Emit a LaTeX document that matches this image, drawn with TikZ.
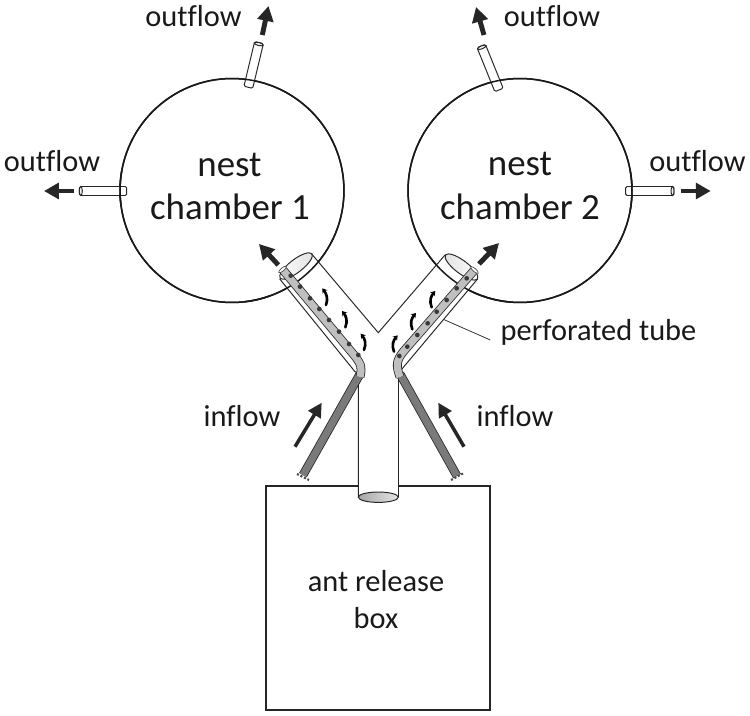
\documentclass[tikz,border=0pt]{standalone}
\usepackage{fontspec}
\setmainfont[Ligatures=NoCommon]{Carlito}
\usetikzlibrary{arrows.meta}
\tikzset{
  px/.style={x=0.02cm,y=-0.02cm},
  lbl/.style={anchor=base,inner sep=0pt,font=\fontsize{17.3}{20}\selectfont,text=black!90},
  biglbl/.style={anchor=base,inner sep=0pt,font=\fontsize{21}{25}\selectfont,text=black!90},
  wall/.style={draw=black!85,line width=0.55pt},
  chamberwall/.style={draw=black!90,line width=0.85pt},
  flow/.style={draw=black!85,line width=2.8pt,-{Triangle[length=8.5pt,width=9pt]}},
  thinflow/.style={draw=black!85,line width=2pt,-{Triangle[length=8pt,width=8pt]}},
  swirl/.style={draw=black,line width=1.5pt,line cap=round,-{Stealth[length=2.6pt,width=3.4pt]}},
}
\newcommand{\stub}[4]{% x y angle length
  \begin{scope}[shift={(#1,#2)},rotate=#3]
    \draw[wall,fill=white,rounded corners=0.8pt] (0,-4.5) rectangle (#4,4.5);
    \draw[wall,fill=black!5] (#4-1.5,0) ellipse (1.5 and 4.5);
  \end{scope}}
\begin{document}
\begin{tikzpicture}[px]
\useasboundingbox[fill=white] (0,0) rectangle (750,716);
% box
\node[draw=black!85,line width=0.6pt,minimum width=4.48cm,minimum height=4.48cm,inner sep=0pt] (box) at (378,598) {};
% chambers
\node[circle,chamberwall,minimum size=4.48cm,inner sep=0pt] (c1) at (232,190.5) {};
\node[circle,chamberwall,minimum size=4.48cm,inner sep=0pt] (c2) at (520,190.5) {};
% stubs
\stub{126.7}{191}{180}{47.4}
\stub{625.7}{191}{0}{48.3}
\stub{248.3}{87.3}{76.5}{46}
\stub{499}{90}{112}{47.5}
\draw[chamberwall] (c1.center) ++(172:112) arc (172:190:112);
\draw[chamberwall] (c2.center) ++(10:112) arc (10:-10:112);
\draw[chamberwall] (c1.center) ++(70:112) arc (70:84:112);
\draw[chamberwall] (c2.center) ++(95:112) arc (95:115:112);
% Y-tube
\draw[wall,fill=white] (358.3,497) -- (358.3,373) -- (355,371.7) -- (280,279.3) -- (311.7,254) -- (378.3,332.7) -- (445,255) -- (477.3,279.3) -- (398.3,373.3) -- (398.3,497);
\fill[white] (358.8,497) -- (358.8,373) -- (378,345) -- (397.8,373) -- (397.8,497) -- cycle;
\begin{scope}[shift={(296,266)},rotate=37.5]
  \shade[left color=white,right color=black!12,draw=black!85,line width=0.55pt] (0,0) ellipse (20 and 6.5);
\end{scope}
\begin{scope}[shift={(461.5,267)},rotate=-37]
  \shade[left color=black!12,right color=white,draw=black!85,line width=0.55pt] (0,0) ellipse (20 and 6.5);
\end{scope}
\shade[left color=black!35,right color=black!10,draw=black!85,line width=0.55pt] (378.3,497.2) ellipse (20 and 5.2);
\draw[wall] (358.3,497) -- (358.3,373);
\draw[wall] (398.3,497) -- (398.3,373.3);
% chamber rims seen through the tube
\node[circle,chamberwall,minimum size=4.48cm,inner sep=0pt] at (232,190.5) {};
\node[circle,chamberwall,minimum size=4.48cm,inner sep=0pt] at (520,190.5) {};
% dark inflow tubes
\draw[black!85,line width=5pt] (360,374) -- (303,475);
\draw[black!52,line width=4.1pt] (360,374) -- (303,475);
\draw[black!85,line width=5pt] (400,374) -- (457,476);
\draw[black!52,line width=4.1pt] (400,374) -- (457,476);
\draw[black!70,line width=1.2pt,dash pattern=on 1.2pt off 1pt] (297,474) -- (309,480);
\draw[black!70,line width=1.2pt,dash pattern=on 1.2pt off 1pt] (451,480) -- (463,473.5);
% perforated tubes
\draw[black!85,line width=5pt,line join=round] (283,270) -- (354,355) .. controls (362,365) and (362,368) .. (360,377);
\draw[black!25,line width=4.1pt,line join=round] (283,270) -- (354,355) .. controls (362,365) and (362,368) .. (360,377);
\draw[black!85,line width=5pt,line join=round] (474,270.5) -- (403,352) .. controls (396,361) and (396,366) .. (400,377);
\draw[black!25,line width=4.1pt,line join=round] (474,270.5) -- (403,352) .. controls (396,361) and (396,366) .. (400,377);
\begin{scope}[shift={(282.5,269.5)},rotate=-50]
  \draw[black!70,fill=white,line width=0.4pt] (0,0) ellipse (1.6 and 4.8);
\end{scope}
\begin{scope}[shift={(474.5,270)},rotate=49]
  \draw[black!70,fill=white,line width=0.4pt] (0,0) ellipse (1.6 and 4.8);
\end{scope}
% holes and swirls (in 3x crop coordinates)
\begin{scope}[shift={(260,230)},scale=1/3]
  \foreach \hx/\hy in {92/137,120/170,150/205,178/237,207/270,237/305,267/342,295/375,
                       418/378,442/350,472/315,503/280,530/245,560/210,590/175,620/145}
    \fill[black!78] (\hx,\hy) circle (7);
  \draw[swirl] (198,225) .. controls (206,205) and (198,190) .. (187,175);
  \draw[swirl] (256,292) .. controls (264,272) and (258,258) .. (246,243);
  \draw[swirl] (312,360) .. controls (320,340) and (314,326) .. (302,311);
  \draw[swirl] (515,232) .. controls (507,212) and (513,198) .. (526,183);
  \draw[swirl] (457,298) .. controls (449,278) and (455,264) .. (468,249);
  \draw[swirl] (402,365) .. controls (394,345) and (400,331) .. (413,316);
\end{scope}
% flow arrows
\draw[flow] (278.3,265) -- (259,244);
\draw[flow] (479,264) -- (499,243);
\draw[flow] (262.3,35) -- (268.5,6);
\draw[flow] (484,35) -- (476,7);
\draw[flow] (74,191) -- (44,191);
\draw[flow] (680.7,191) -- (710.7,191);
\draw[thinflow] (295,446.7) -- (321.7,402.7);
\draw[thinflow] (464,446.7) -- (438.3,402.7);
% labels
\node[lbl] (o1) at (193.5,27) {outflow};
\node[lbl] (o2) at (52,171.5) {outflow};
\node[lbl] (o3) at (552,27) {outflow};
\node[lbl] (o4) at (697.5,171.5) {outflow};
\node[biglbl] (n1) at (229.5,177) {nest};
\node[biglbl] (t1) at (230,219.5) {chamber 1};
\node[biglbl] (n2) at (520,176) {nest};
\node[biglbl] (t2) at (520,219) {chamber 2};
\node[lbl] (i1) at (242,426) {inflow};
\node[lbl] (i2) at (515,426) {inflow};
\node[lbl] (ab1) at (376,591) {ant release};
\node[lbl] (ab2) at (376,628) {box};
\node[lbl] (pt) at (598.5,340) {perforated tube};
\coordinate (ptend) at (443.3,319.3);
\draw[black!80,line width=0.45pt] (pt.west |- 490,340) ++(-10,0) -- (ptend);
\end{tikzpicture}
\end{document}
